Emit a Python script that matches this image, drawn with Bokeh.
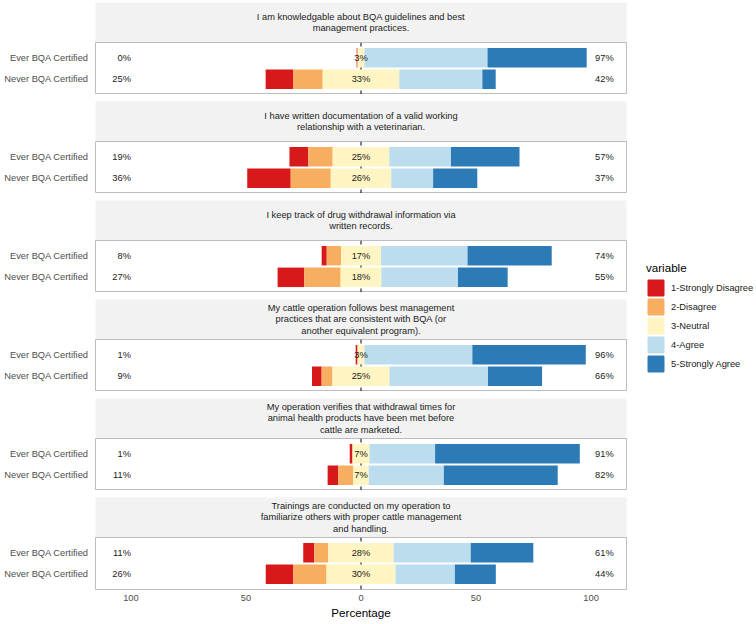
from bokeh.plotting import figure
from bokeh.models import (ColumnDataSource, Range1d, FactorRange, FixedTicker,
                          CustomJSTickFormatter, Span, Legend, LegendItem)
from bokeh.layouts import column, row
from bokeh.embed import file_html
from bokeh.resources import INLINE
from bokeh.core.properties import value

# ---------------- data ----------------
items = [
    "I am knowledgable about BQA guidelines and best\nmanagement practices.",
    "I have written documentation of a valid working\nrelationship with a veterinarian.",
    "I keep track of drug withdrawal information via\nwritten records.",
    "My cattle operation follows best management\npractices that are consistent with BQA (or\nanother equivalent program).",
    "My operation verifies that withdrawal times for\nanimal health products have been met before\ncattle are marketed.",
    "Trainings are conducted on my operation to\nfamiliarize others with proper cattle management\nand handling.",
]
groups = ["Ever BQA Certified", "Never BQA Certified"]
levels = ["1-Strongly Disagree", "2-Disagree", "3-Neutral", "4-Agree", "5-Strongly Agree"]
colors = ["#D7191C", "#F8AE61", "#FFF5C3", "#BCDDEE", "#2C7BB6"]

# percentages, ordered item by item: (Ever, Never) for each item
strongly_disagree = [0.4, 11.9, 8.2, 18.9, 2.2, 11.6, 0.8, 4.2, 1.2, 4.6, 4.8, 11.9]
disagree          = [0.0, 12.9, 10.6, 17.4, 6.2, 15.8, 0.0, 4.7, 0.0, 6.5, 6.1, 14.5]
neutral           = [3.0, 33.3, 24.6, 26.3, 17.4, 17.7, 3.0, 24.8, 7.4, 6.8, 28.4, 30.0]
agree             = [53.5, 36.1, 26.8, 18.2, 37.6, 33.3, 46.9, 42.8, 28.5, 32.6, 33.5, 25.8]
strongly_agree    = [43.1, 5.8, 29.8, 19.2, 36.6, 21.6, 49.3, 23.5, 62.9, 49.5, 27.2, 17.8]

x_ticks = [-100, -50, 0, 50, 100]

# ---------------- style ----------------
FONT = "Liberation Sans"
SMALL = "9.3px"
BIG = "11.6px"
GAP = 7
STRIP_H = 40
PANEL_H = 52
LEFT = 95
RIGHT = 1
PLOT_W = 627

x_range = Range1d(-115.4, 115.4)


def pct(v):
    return "%d%%" % int(v + 0.5)


figs = []
n_items = len(items)
for i, title in enumerate(items):
    # ---- strip ----
    gap = 2 if i == 0 else GAP
    s = figure(width=PLOT_W, height=gap + STRIP_H, x_range=Range1d(0, 1), y_range=Range1d(0, 1),
               x_axis_location=None, y_axis_location=None, toolbar_location=None,
               output_backend="svg", min_border_left=LEFT, min_border_right=RIGHT,
               min_border_top=gap, min_border_bottom=0,
               background_fill_color="#F2F2F2", outline_line_color=None)
    s.xgrid.grid_line_color = None
    s.ygrid.grid_line_color = None
    s.text(x=[0.5], y=[0.5], text=[title], text_align="center", text_baseline="middle",
           text_font=value(FONT), text_font_size=SMALL, text_color="#1A1A1A",
           text_line_height=1.14)
    figs.append(s)

    # ---- panel ----
    last = (i == n_items - 1)
    idx = [2 * i, 2 * i + 1]
    sd = [strongly_disagree[k] for k in idx]
    d = [disagree[k] for k in idx]
    n = [neutral[k] for k in idx]
    a = [agree[k] for k in idx]
    sa = [strongly_agree[k] for k in idx]

    half = [v / 2 for v in n]
    e_or = [-h for h in half]
    e_rd = [-h - dv for h, dv in zip(half, d)]
    e_rdl = [-h - dv - sv for h, dv, sv in zip(half, d, sd)]
    e_ag = [h + av for h, av in zip(half, a)]
    e_sa = [h + av + sv for h, av, sv in zip(half, a, sa)]

    src = ColumnDataSource(dict(
        group=groups,
        sd_l=e_rdl, sd_r=e_rd,
        d_l=e_rd, d_r=e_or,
        n_l=e_or, n_r=half,
        a_l=half, a_r=e_ag,
        sa_l=e_ag, sa_r=e_sa,
        low_lab=[pct(x + y) for x, y in zip(sd, d)],
        mid_lab=[pct(v) for v in n],
        high_lab=[pct(x + y) for x, y in zip(a, sa)],
        low_x=[x_ticks[0]] * 2,
        mid_x=[x_ticks[2]] * 2,
        high_x=[x_ticks[-1]] * 2,
    ))

    p = figure(width=PLOT_W, height=PANEL_H + (35 if last else 0),
               x_range=x_range,
               y_range=FactorRange(factors=groups[::-1], range_padding=0.2,
                                   range_padding_units="absolute"),
               x_axis_location="below" if last else None,
               toolbar_location=None, output_backend="svg",
               min_border_left=LEFT, min_border_right=RIGHT, min_border_top=0,
               min_border_bottom=35 if last else 0,
               outline_line_color="#BDBDBD", outline_line_width=1,
               background_fill_color="white", border_fill_color="white")
    p.xgrid.grid_line_color = None
    p.ygrid.grid_line_color = None

    p.add_layout(Span(location=0, dimension="height", line_color="black",
                      line_dash="4 4", line_width=1, level="underlay"))

    for (l, r), c in zip([("sd_l", "sd_r"), ("d_l", "d_r"), ("n_l", "n_r"),
                          ("a_l", "a_r"), ("sa_l", "sa_r")], colors):
        p.hbar(y="group", left=l, right=r, height=0.9, source=src,
               fill_color=c, line_color=None)

    p.text(x="mid_x", y="group", text="mid_lab", source=src, text_align="center",
           text_baseline="middle", text_font=value(FONT), text_font_size=SMALL,
           text_color="#1A1A1A")
    p.text(x="low_x", y="group", text="low_lab", source=src, text_align="right",
           text_baseline="middle", text_font=value(FONT), text_font_size=SMALL,
           text_color="#1A1A1A")
    p.text(x="high_x", y="group", text="high_lab", source=src, text_align="left",
           x_offset=4, text_baseline="middle", text_font=value(FONT),
           text_font_size=SMALL, text_color="#1A1A1A")

    p.yaxis.axis_line_color = None
    p.yaxis.major_tick_line_color = None
    p.yaxis.minor_tick_line_color = None
    p.yaxis.major_tick_out = 0
    p.yaxis.major_label_standoff = 7
    p.yaxis.major_label_text_font = FONT
    p.yaxis.major_label_text_font_size = SMALL
    p.yaxis.major_label_text_color = "#4D4D4D"

    if last:
        xa = p.xaxis[0]
        xa.ticker = FixedTicker(ticks=x_ticks)
        xa.formatter = CustomJSTickFormatter(code="return Math.abs(tick).toString();")
        xa.axis_line_color = None
        xa.major_tick_line_color = None
        xa.minor_tick_line_color = None
        xa.major_tick_out = 0
        xa.major_label_standoff = 5
        xa.major_label_text_font = FONT
        xa.major_label_text_font_size = SMALL
        xa.major_label_text_color = "#4D4D4D"
        xa.axis_label = "Percentage"
        xa.axis_label_text_font = FONT
        xa.axis_label_text_font_size = BIG
        xa.axis_label_text_font_style = "normal"
        xa.axis_label_text_color = "black"
        xa.axis_label_standoff = 2
    figs.append(p)

# ---------------- legend ----------------
lf = figure(width=129, height=624, x_range=Range1d(0, 1), y_range=Range1d(0, 1),
            x_axis_location=None, y_axis_location=None, toolbar_location=None,
            output_backend="svg", min_border=0, outline_line_color=None)
lf.xgrid.grid_line_color = None
lf.ygrid.grid_line_color = None
nan = float("nan")
rs = [lf.quad(left=[nan], right=[nan], top=[nan], bottom=[nan], fill_color=c,
              line_color=c, line_width=1.8)
      for c in colors]
legend = Legend(items=[LegendItem(label=lab, renderers=[r]) for lab, r in zip(levels, rs)],
                location=(19, 251), title="variable",
                title_text_font=FONT, title_text_font_size=BIG,
                title_text_font_style="normal", title_text_color="black",
                title_standoff=4,
                label_text_font=FONT, label_text_font_size=SMALL, label_text_color="#1A1A1A",
                glyph_width=19, glyph_height=19, label_height=19, spacing=0,
                label_standoff=6, padding=0, margin=0,
                border_line_color=None, background_fill_alpha=0)
lf.add_layout(legend)

layout = row(column(*figs, spacing=0), lf, spacing=0)

open("out.html", "w").write(file_html(layout, INLINE))
